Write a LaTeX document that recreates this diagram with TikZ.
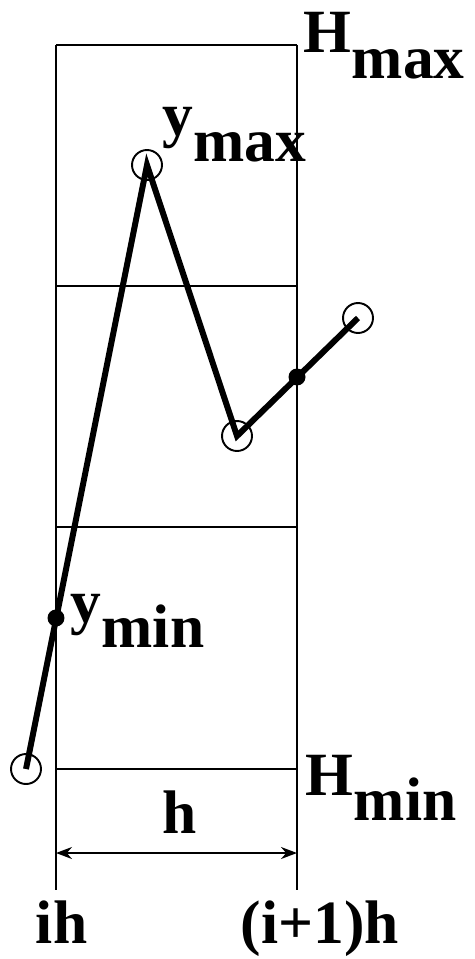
\documentclass[tikz,border=0pt]{standalone}
\usepackage{fontspec}
\setmainfont{Liberation Serif}
\usetikzlibrary{arrows.meta}
\newcommand{\sublbl}[2]{#1\raisebox{-0.42em}{#2}}
\begin{document}
\begin{tikzpicture}[x=0.02cm, y=-0.02cm, >={Stealth[length=0.32cm,width=0.24cm]}, line width=1.1pt,
	lbl/.style={inner sep=0pt, anchor=base west, font=\fontsize{35}{40}\selectfont\bfseries}]
	\useasboundingbox (0,0) rectangle (475,959);
	% Lưới
	\draw (56,45) -- (56,890) (297,45) -- (297,890);
	\foreach \yy in {45,286,527,769}
		\draw (56,\yy) -- (297,\yy);
	\draw[<->] (56,853) -- (297,853);
	% Các điểm
	\coordinate (p0) at (26,769);
	\coordinate (p1) at (56,618);
	\coordinate (p2) at (147,165);
	\coordinate (p3) at (237,436);
	\coordinate (p4) at (297,377);
	\coordinate (p5) at (358,318);
	\draw[line width=3.4pt] (p0) -- (p2) -- (p3) -- (p5);
	\fill (p1) circle (0.17cm) (p4) circle (0.17cm);
	\foreach \pt in {p0,p2,p3,p5}
		\draw (\pt) circle (0.3cm);
	% Nhãn
	\node[lbl] (hmax) at (303,53) {\sublbl{H}{max}};
	\node[lbl] (ymax) at (162,136) {\sublbl{y}{max}};
	\node[lbl] (ymin) at (70,622) {\sublbl{y}{min}};
	\node[lbl] (hmin) at (305,795) {\sublbl{H}{min}};
	\node[lbl, anchor=base] (hh) at (180,833) {h};
	\node[lbl] (ih) at (35,943) {ih};
	\node[lbl] (i1h) at (240,943) {(i+1)h};
\end{tikzpicture}
\end{document}
